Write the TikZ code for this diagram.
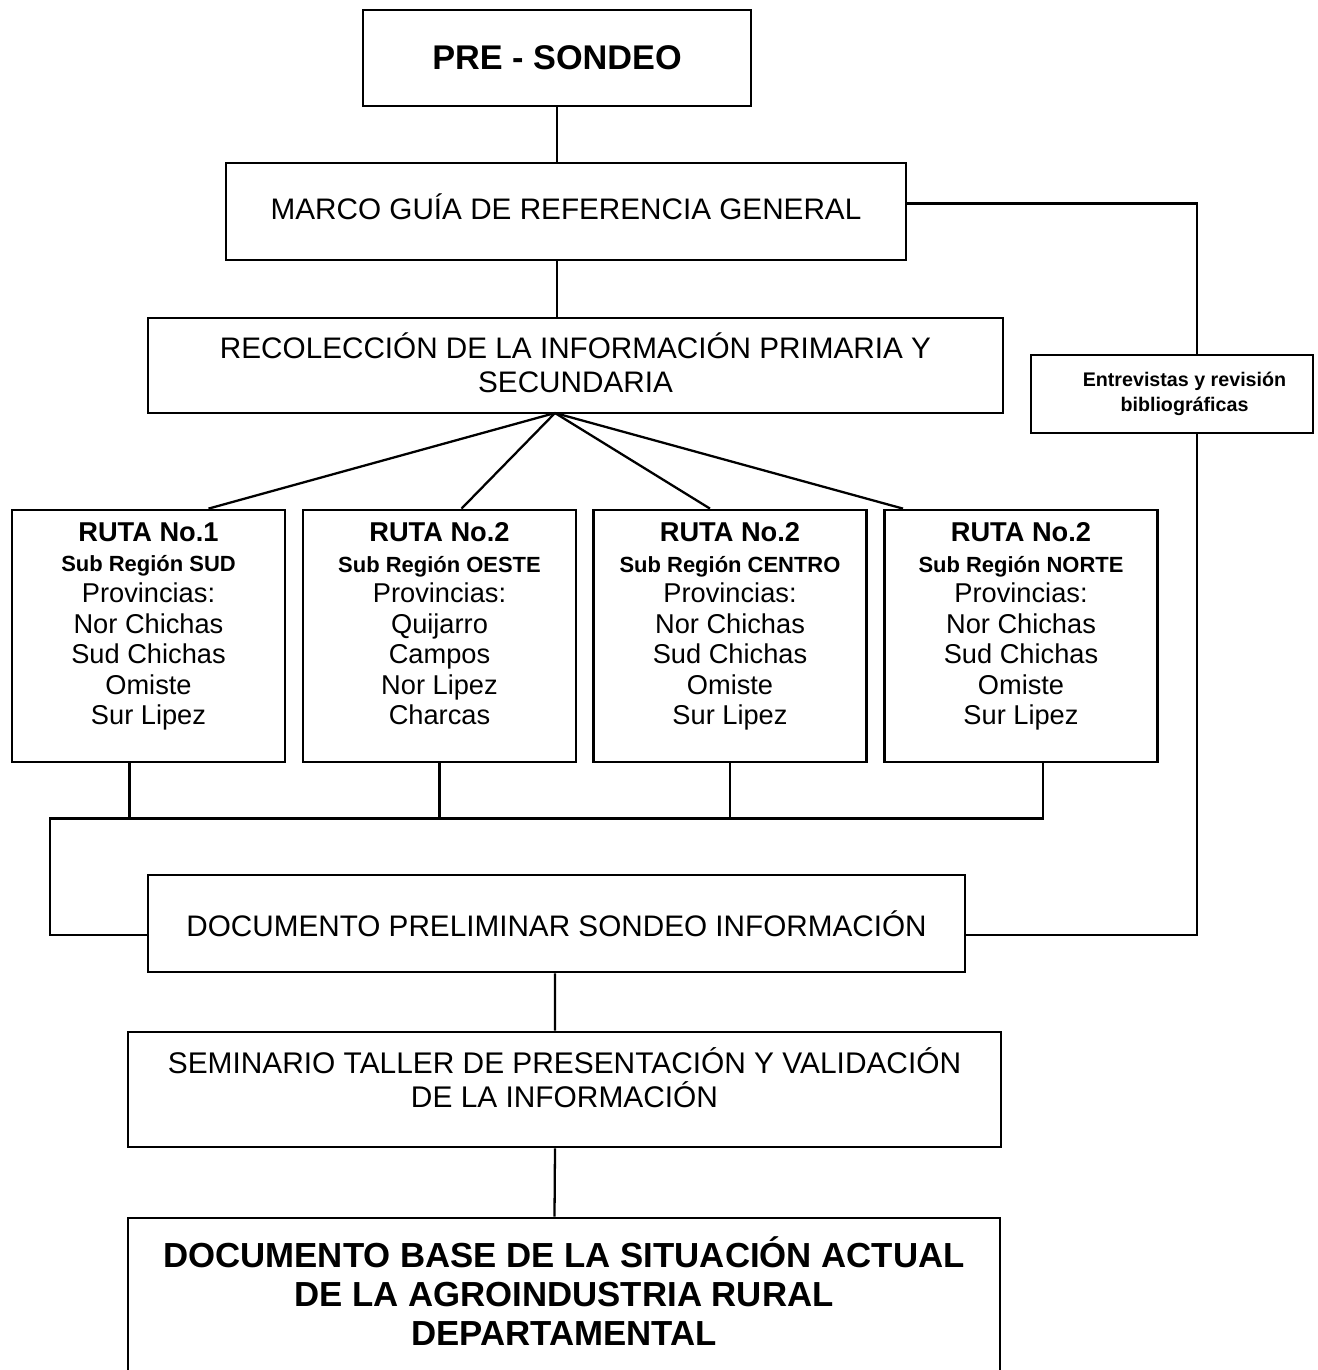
\documentclass[tikz,border=0pt]{standalone}
\usepackage{fontspec}
\setmainfont{Liberation Sans}
\usetikzlibrary{calc}

\newcommand{\lowpad}[1]{\rule[-#1]{0pt}{0pt}}

\begin{document}
\begin{tikzpicture}[x=0.02cm,y=-0.02cm]
\useasboundingbox (0,0) rectangle (1318,1370);
\begin{scope}[
    every node/.style={rectangle,draw=black,line width=1.6pt,fill=white,align=center,inner sep=2pt},
    routebox/.style={minimum width=5.46cm,minimum height=5.04cm,font=\fontsize{15.5}{17.4}\selectfont}]
    \node (pre) at (557, 58) [minimum width=7.76cm,minimum height=1.92cm,font=\fontsize{19.5}{22}\selectfont\bfseries] {PRE - SONDEO};

    \node (marco) at (566, 211.5) [minimum width=13.6cm,minimum height=1.94cm,font=\fontsize{16.9}{19.3}\selectfont] {MARCO GUÍA DE REFERENCIA GENERAL\lowpad{5pt}};

    \node (recol) at (575.5, 365.5) [minimum width=17.1cm,minimum height=1.9cm,font=\fontsize{16.9}{19.3}\selectfont] {RECOLECCIÓN DE LA INFORMACIÓN PRIMARIA Y\\SECUNDARIA\lowpad{3pt}};

    \node (entre) at (1172, 394) [minimum width=5.64cm,minimum height=1.56cm,font=\fontsize{11.2}{14}\selectfont\bfseries] {\hspace*{0.5cm}Entrevistas y revisión\\\hspace*{0.5cm}bibliográficas};

    % % rutas
    \node (r1) at (148.5, 636) [routebox] {{\bfseries RUTA No.1}\\{\fontsize{12.5}{16}\selectfont\bfseries Sub Región SUD}\\Provincias:\\Nor Chichas\\Sud Chichas\\Omiste\\Sur Lipez\lowpad{14pt}};
    \node (r2) at (439.5, 636) [routebox] {{\bfseries RUTA No.2}\\{\fontsize{12.5}{16}\selectfont\bfseries Sub Región OESTE}\\Provincias:\\Quijarro\\Campos\\Nor Lipez\\Charcas\lowpad{14pt}};
    \node (r3) at (730, 636) [routebox] {{\bfseries RUTA No.2}\\{\fontsize{12.5}{16}\selectfont\bfseries Sub Región CENTRO}\\Provincias:\\Nor Chichas\\Sud Chichas\\Omiste\\Sur Lipez\lowpad{14pt}};
    \node (r4) at (1021, 636) [routebox] {{\bfseries RUTA No.2}\\{\fontsize{12.5}{16}\selectfont\bfseries Sub Región NORTE}\\Provincias:\\Nor Chichas\\Sud Chichas\\Omiste\\Sur Lipez\lowpad{14pt}};

    % % documentos
    \node (prelim) at (556.5, 923.5) [minimum width=16.34cm,minimum height=1.94cm,font=\fontsize{16.9}{19.3}\selectfont] {DOCUMENTO PRELIMINAR SONDEO INFORMACIÓN};
    \node (semin) at (564.5, 1089.5) [minimum width=17.46cm,minimum height=2.3cm,font=\fontsize{17}{19.3}\selectfont] {SEMINARIO TALLER DE PRESENTACIÓN Y VALIDACIÓN\\DE LA INFORMACIÓN\lowpad{14pt}};
    \node (base) at (564, 1299) [minimum width=17.44cm,minimum height=3.24cm,font=\fontsize{19.8}{22.2}\selectfont\bfseries] {DOCUMENTO BASE DE LA SITUACIÓN ACTUAL\\DE LA AGROINDUSTRIA RURAL\\DEPARTAMENTAL\lowpad{9pt}};
\end{scope}

\begin{scope}[every path/.style={draw=black,line width=1.3pt}]
    \coordinate (rcol) at (1197, 0);
    \coordinate (lcol) at (50, 0);
    \coordinate (apex) at (555, 413);
    \coordinate (pin) at ([yshift=-0.23cm]prelim.west);
    \coordinate (pout) at ([yshift=-0.23cm]prelim.east);

    \path (pre.south) edge (pre.south |- marco.north);
    \path (marco.south -| pre.south) edge (recol.north -| pre.south);
    \draw ([yshift=0.16cm]marco.east) -| (entre.north -| rcol);
    \draw (entre.south -| rcol) |- (pout);

    \path (apex) edge ([xshift=1.2cm]r1.north);
    \path (apex) edge ([xshift=0.44cm]r2.north);
    \path (apex) edge ([xshift=-0.4cm]r3.north);
    \path (apex) edge ([xshift=-2.36cm]r4.north);

    \draw ([xshift=-0.38cm]r1.south) -- ++(0,55) -| (lcol |- pin) -- (pin);
    \draw (r2.south) -- ++(0,55);
    \draw (r3.south) -- ++(0,55);
    \draw ([xshift=0.44cm]r4.south) -- ++(0,55) -- ++(-990,0);

    \path (prelim.south -| semin.north) ++(-9.5,0) edge ([xshift=-0.19cm]semin.north);
    \path ([xshift=-0.19cm]semin.south) edge ([xshift=-0.19cm]base.north);
\end{scope}
\end{tikzpicture}
\end{document}
